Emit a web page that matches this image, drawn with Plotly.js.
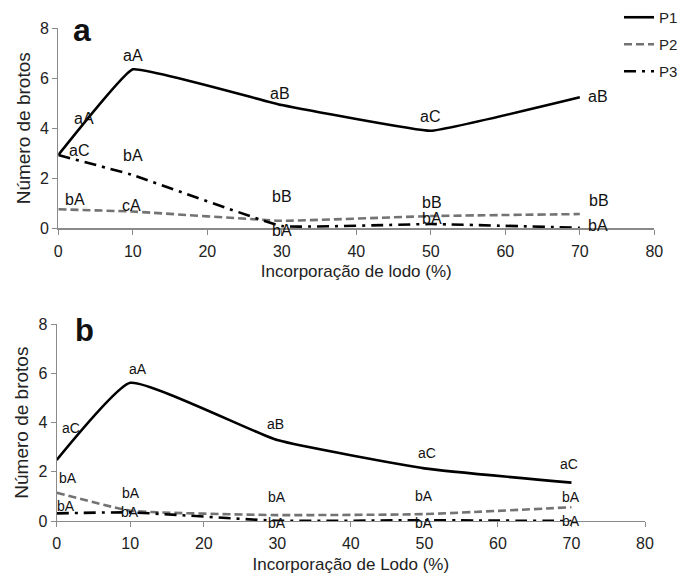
<!DOCTYPE html>
<html>
<head>
<meta charset="utf-8">
<script src="https://cdn.plot.ly/plotly-3.0.1.min.js"></script>
<style>html,body{margin:0;padding:0;background:#fff}#chart{width:683px;height:576px}</style>
</head>
<body>
<div id="chart"></div>
<script>
// ---- data ----
const incorporacao = [0, 10, 30, 50, 70];
const seriesNames = ['P1', 'P2', 'P3'];

const aP1 = [2.93, 6.36, 4.93, 3.90, 5.24];
const aP2 = [0.76, 0.67, 0.30, 0.49, 0.57];
const aP3 = [2.93, 2.13, 0.09, 0.17, 0.02];

const bP1 = [2.48, 5.62, 3.29, 2.14, 1.56];
const bP2 = [1.15, 0.42, 0.24, 0.28, 0.56];
const bP3 = [0.31, 0.35, 0.01, 0.03, 0.00];

const xTicks = [0, 10, 20, 30, 40, 50, 60, 70, 80];
const yTicks = [0, 2, 4, 6, 8];

// significance letters (text) and their anchor points in data units
const aLabelText = ['aA','aC','bA','aA','bA','cA','aB','bB','bA','aC','bB','bA','aB','bB','bA'];
const aLabelX    = [3.4, 2.8, 2.2, 10, 10, 9.8, 29.8, 30, 30, 49.9, 50.1, 50.1, 72.4, 72.6, 72.4];
const aLabelY    = [4.4, 3.1, 1.17, 6.93, 2.9, 0.9, 5.4, 1.29, 0, 4.47, 1.04, 0.4, 5.27, 1.13, 0.13];

const bLabelText = ['aC','bA','bA','aA','bA','bA','aB','bA','bA','aC','bA','bA','aC','bA','bA'];
const bLabelX    = [1.9, 1.5, 1.2, 11, 10.05, 10, 29.8, 30, 30, 50.4, 50, 50, 69.7, 70, 70];
const bLabelY    = [3.77, 1.76, 0.61, 6.18, 1.15, 0.37, 3.94, 0.96, 0, 2.78, 1.02, 0, 2.32, 0.99, 0.01];

// ---- layout helpers ----
const W = 683, H = 576;
const px = v => v / W;
const py = v => 1 - v / H;
const FONT = 'Liberation Sans, Arial, sans-serif';
const AXC = '#8a8a8a';

const styles = [
  {color: '#000000', width: 2.6, dash: 'solid'},
  {color: '#737373', width: 2.6, dash: '8px,4px'},
  {color: '#000000', width: 2.6, dash: '12px,6px,3px,6px'}
];

function mk(y, i, xa, ya, legend, smooth) {
  return {
    x: incorporacao, y: y, name: seriesNames[i], type: 'scatter', mode: 'lines',
    xaxis: xa, yaxis: ya, showlegend: legend, legendgroup: 'g' + i,
    line: Object.assign({shape: 'spline', smoothing: smooth}, styles[i]),
    cliponaxis: false, hoverinfo: 'x+y+name'
  };
}

const data = [
  mk(aP1, 0, 'x', 'y', true, 0.25), mk(aP2, 1, 'x', 'y', true, 0.25), mk(aP3, 2, 'x', 'y', true, 0.25),
  mk(bP1, 0, 'x2', 'y2', false, 0.4), mk(bP2, 1, 'x2', 'y2', false, 0.4), mk(bP3, 2, 'x2', 'y2', false, 0.4)
];

function xax(title, anchor) {
  return {
    range: [0, 80], tickvals: xTicks, ticks: 'outside', ticklen: 5, tickcolor: AXC,
    showline: true, linecolor: AXC, linewidth: 1.2, showgrid: false, zeroline: false,
    tickfont: {family: FONT, size: 16, color: '#222'}, ticklabelstandoff: 3,
    title: {text: title, font: {family: FONT, size: 17, color: '#222'}, standoff: 6},
    anchor: anchor, automargin: false, fixedrange: true
  };
}
function yax(anchor) {
  return {
    range: [0, 8], tickvals: yTicks, ticks: 'outside', ticklen: 5, tickcolor: AXC,
    showline: true, linecolor: AXC, linewidth: 1.2, showgrid: false, zeroline: false,
    tickfont: {family: FONT, size: 16, color: '#222'},
    title: {text: 'Número de brotos', font: {family: FONT, size: 19, color: '#222'}, standoff: 4},
    anchor: anchor, automargin: false, fixedrange: true
  };
}

const annotations = [];
function addLabels(texts, xs, ys, xr, yr, size) {
  texts.forEach((t, k) => {
    annotations.push({
      text: t, x: xs[k], y: ys[k], xref: xr, yref: yr, showarrow: false,
      xanchor: 'center', yanchor: 'middle', yshift: ys[k] === 0 ? -2 : 0,
      font: {family: FONT, size: size, color: '#111'}
    });
  });
}
addLabels(aLabelText, aLabelX, aLabelY, 'x', 'y', 16);
addLabels(bLabelText, bLabelX, bLabelY, 'x2', 'y2', 14);

annotations.push({text: '<b>a</b>', xref: 'paper', yref: 'paper', x: px(82), y: py(30),
  xanchor: 'center', yanchor: 'middle', showarrow: false, font: {family: FONT, size: 32, color: '#111'}});
annotations.push({text: '<b>b</b>', xref: 'paper', yref: 'paper', x: px(84), y: py(330),
  xanchor: 'center', yanchor: 'middle', showarrow: false, font: {family: FONT, size: 31, color: '#111'}});

const layout = {
  width: W, height: H,
  margin: {l: 0, r: 0, t: 0, b: 0, autoexpand: false},
  paper_bgcolor: '#fff', plot_bgcolor: '#fff',
  font: {family: FONT, color: '#222'},
  xaxis: Object.assign(xax('Incorporação de lodo (%)', 'y'), {domain: [px(58.3), px(654.3)]}),
  yaxis: Object.assign(yax('x'), {domain: [py(228.3), py(28.3)]}),
  xaxis2: Object.assign(xax('Incorporação de Lodo (%)', 'y2'), {domain: [px(56.7), px(645)]}),
  yaxis2: Object.assign(yax('x2'), {domain: [py(521), py(324.3)]}),
  showlegend: true,
  legend: {xref: 'container', yref: 'container', x: 1 + 7 / W, xanchor: 'right', y: 1 - 1 / H, yanchor: 'top',
    bgcolor: 'rgba(0,0,0,0)',
    font: {family: FONT, size: 15, color: '#222'}, tracegroupgap: 4.5, traceorder: 'grouped'},
  annotations: annotations
};

Plotly.newPlot('chart', data, layout, {displayModeBar: false, staticPlot: true});
</script>
</body>
</html>
